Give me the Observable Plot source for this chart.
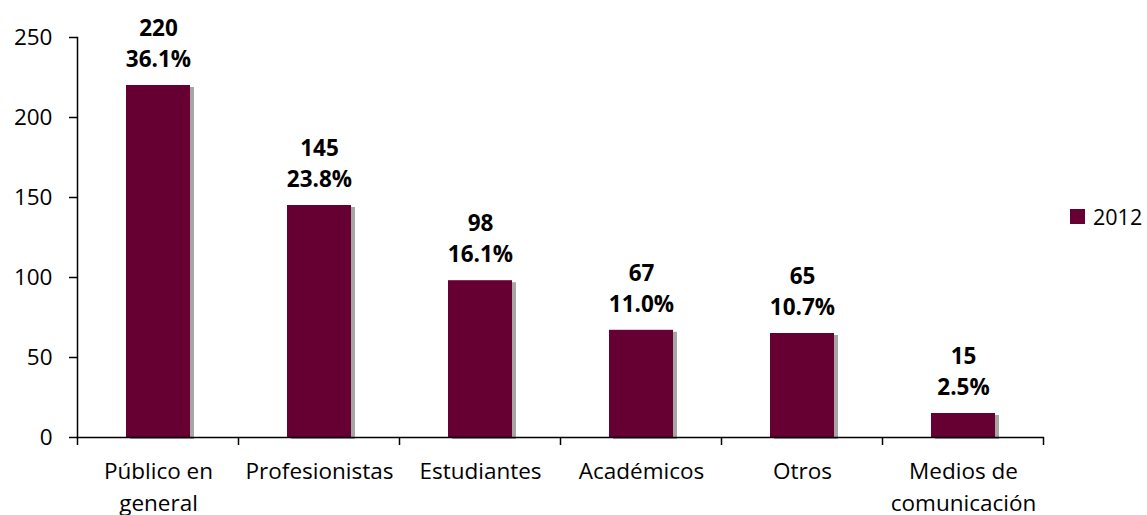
<!DOCTYPE html>
<html>
<head>
<meta charset="utf-8">
<script src="https://cdn.jsdelivr.net/npm/d3@7"></script>
<script src="https://cdn.jsdelivr.net/npm/@observablehq/plot@0.6"></script>
<style>
html, body { margin: 0; padding: 0; background: #fff; }
#wrap { position: relative; width: 1147px; height: 515px; font-family: "Open Sans", sans-serif; }
#legend { position: absolute; left: 1070px; top: 202px; display: flex; align-items: center; font-size: 21.5px; color: #000; line-height: 29px; }
#legend .sw { width: 15px; height: 15px; margin-right: 8px; }
</style>
</head>
<body>
<div id="wrap">
  <div id="legend"><span class="sw"></span><span class="lbl"></span></div>
</div>
<script>
const categories = ["Público en\ngeneral", "Profesionistas", "Estudiantes", "Académicos", "Otros", "Medios de\ncomunicación"];
const counts = [220, 145, 98, 67, 65, 15];
const percents = ["36.1%", "23.8%", "16.1%", "11.0%", "10.7%", "2.5%"];
const yTicks = [0, 50, 100, 150, 200, 250];
const seriesName = "2012";
const barColor = "#660033";

const data = categories.map((c, i) => ({category: c, count: counts[i], pct: percents[i]}));

function boundaryTicks(index, scales, values, dimensions) {
  const x = scales.x;
  const bw = x.bandwidth();
  const step = x.step();
  const y0 = dimensions.height - dimensions.marginBottom;
  const g = d3.create("svg:g").attr("aria-label", "x-boundary-ticks")
    .attr("stroke", "#000").attr("stroke-width", 1.5);
  const xs = categories.map(c => x(c) - (step - bw) / 2);
  xs.push(x(categories[categories.length - 1]) + bw + (step - bw) / 2);
  for (const px of xs) {
    g.append("line").attr("x1", px).attr("x2", px).attr("y1", y0).attr("y2", y0 + 8);
  }
  return g.node();
}

const chart = Plot.plot({
  width: 1147,
  height: 515,
  marginLeft: 77,
  marginRight: 103,
  marginTop: 37,
  marginBottom: 78,
  style: {fontFamily: "'Open Sans', sans-serif", fontSize: "22.5px", color: "#000", background: "#fff"},
  x: {domain: categories, paddingInner: 0.6, paddingOuter: 0.3, axis: null},
  y: {domain: [0, 250], axis: null, label: null},
  marks: [
    Plot.barY(data, {x: "category", y: "count", fill: "#000", fillOpacity: 0.35, dx: 4, dy: 2, ariaLabel: "shadow"}),
    Plot.barY(data, {x: "category", y: "count", fill: barColor}),
    Plot.axisY(yTicks, {tickSize: 8, tickPadding: 17, fontSize: 22.5, stroke: "#000", strokeWidth: 1.5, fill: "#000", label: null}),
    Plot.frame({anchor: "left", stroke: "#000", strokeWidth: 1.5}),
    Plot.ruleY([0], {stroke: "#000", strokeWidth: 1.5}),
    boundaryTicks,
    Plot.text(data, {x: "category", text: "category", frameAnchor: "bottom", lineAnchor: "top", dy: 18, lineHeight: 1.45, fontSize: 22.5, fill: "#000"}),
    Plot.text(data, {x: "category", y: "count", text: "pct", dy: -26, fontSize: 22.5, fontWeight: "bold", fill: "#000"}),
    Plot.text(data, {x: "category", y: "count", text: d => String(d.count), dy: -57, fontSize: 22.5, fontWeight: "bold", fill: "#000"})
  ]
});

const svg = d3.select(chart);
svg.insert("defs", ":first-child").html('<filter id="blurSh" x="-50%" y="-10%" width="200%" height="120%"><feGaussianBlur stdDeviation="2"/></filter>');
svg.select('g[aria-label="shadow"]').attr("filter", "url(#blurSh)");

const wrap = document.getElementById("wrap");
wrap.insertBefore(chart, wrap.firstChild);
document.querySelector("#legend .sw").style.background = barColor;
document.querySelector("#legend .lbl").textContent = seriesName;
</script>
</body>
</html>
